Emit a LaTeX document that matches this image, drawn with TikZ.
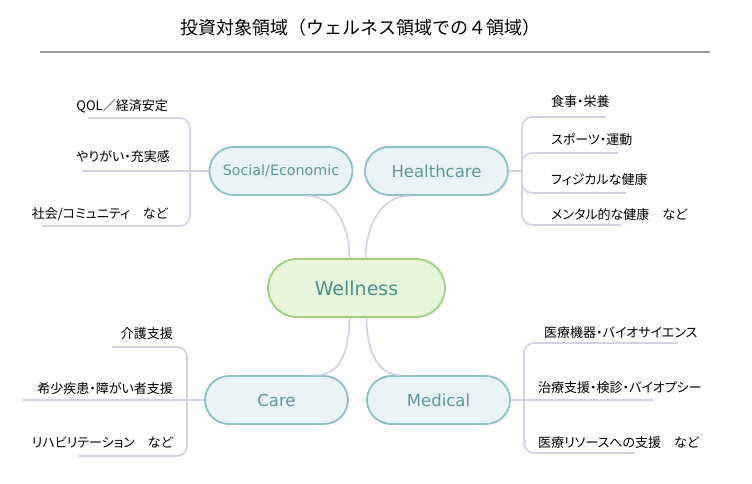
\documentclass[tikz,border=0pt]{standalone}
\usepackage{fontspec}
\newfontfamily\jpfont{Noto Sans CJK JP}
\newfontfamily\leaffont[RawFeature=+palt]{Noto Sans CJK JP}
\newfontfamily\latinfont{DejaVu Sans}
\usetikzlibrary{positioning}
\definecolor{topicfill}{HTML}{E8F4F6}
\definecolor{topicdraw}{HTML}{8DC0C4}
\definecolor{topictext}{HTML}{5E979D}
\definecolor{corefill}{HTML}{E5F6DA}
\definecolor{coredraw}{HTML}{A3D07D}
\definecolor{coretext}{HTML}{4F8F8F}
\definecolor{branchline}{HTML}{D3D2E2}
\definecolor{rulegray}{HTML}{9A9A9A}

\begin{document}
\begin{tikzpicture}[x=1pt, y=-1pt,
    topic/.style={draw=topicdraw, line width=1.8pt, fill=topicfill, rounded corners=24pt, minimum width=143pt, minimum height=48pt, text=topictext, font=\latinfont\fontsize{16.5}{18}\selectfont},
    core/.style={draw=coredraw, line width=1.8pt, fill=corefill, rounded corners=29pt, minimum width=177pt, minimum height=58pt, text=coretext, font=\latinfont\fontsize{19}{22}\selectfont},
    leaf/.style={inner sep=0pt, font=\leaffont\fontsize{13}{15}\selectfont},
    branch/.style={draw=branchline, line width=1.6pt, rounded corners=10pt}]
    \fill[white] (0,0) rectangle (752,484);

    \node[anchor=base west, inner sep=0pt, font=\jpfont\fontsize{18}{20}\selectfont] (title) at (180,35) {投資対象領域（ウェルネス領域での４領域）};
    \draw[rulegray, line width=1.2pt] (40,52) -- (710,52);

    \node[core] (wellness) at (356.5,288) {Wellness};
    \node[topic, font=\latinfont\fontsize{14.3}{16}\selectfont] (social) at (281,171) {Social/Economic};
    \node[topic] (health) at (436.5,171) {Healthcare};
    \node[topic] (care) at (276.5,400) {Care};
    \node[topic] (medical) at (438.5,400) {Medical};

    \draw[branch] ([xshift=-7pt]wellness.north) to[out=90, in=0] ([xshift=26pt]social.south);
    \draw[branch] ([xshift=9pt]wellness.north) to[out=90, in=180] ([xshift=-27pt]health.south);
    \draw[branch] ([xshift=-7pt]wellness.south) to[out=-90, in=0] ([xshift=41pt]care.north);
    \draw[branch] ([xshift=10pt]wellness.south) to[out=-90, in=180] ([xshift=-38pt]medical.north);

    % Social/Economic
    \coordinate (s_j) at (190,171);
    \coordinate (s_1) at (88,118);
    \coordinate (s_2) at (82,171);
    \coordinate (s_3) at (42,226);
    \node[leaf, anchor=base east] (s_1_label) at (168,111) {QOL／経済安定};
    \node[leaf, anchor=base east] (s_2_label) at (170,161) {やりがい・充実感};
    \node[leaf, anchor=base east] (s_3_label) at (168,218) {社会/コミュニティ　など};
    \draw[branch] (social.west) -- (s_2);
    \draw[branch] (s_j) -- (s_j |- s_1) -- (s_1);
    \draw[branch] (s_j) -- (s_j |- s_3) -- (s_3);

    % Healthcare
    \coordinate (h_j) at (522,171);
    \coordinate (h_1) at (606,117);
    \coordinate (h_2) at (618,153);
    \coordinate (h_3) at (626,193);
    \coordinate (h_4) at (621,225);
    \node[leaf, anchor=base west] (h_1_label) at (551,107) {食事・栄養};
    \node[leaf, anchor=base west] (h_2_label) at (551,144) {スポーツ・運動};
    \node[leaf, anchor=base west] (h_3_label) at (551,184) {フィジカルな健康};
    \node[leaf, anchor=base west] (h_4_label) at (551,219) {メンタル的な健康　など};
    \draw[branch] (health.east) -- (h_j);
    \draw[branch] (h_j) -- (h_j |- h_1) -- (h_1);
    \draw[branch] (h_j) -- (h_j |- h_2) -- (h_2);
    \draw[branch] (h_j) -- (h_j |- h_3) -- (h_3);
    \draw[branch] (h_j) -- (h_j |- h_4) -- (h_4);

    % Care
    \coordinate (c_j) at (187,400);
    \coordinate (c_1) at (112,347);
    \coordinate (c_2) at (23,400);
    \coordinate (c_3) at (79,456);
    \node[leaf, anchor=base east] (c_1_label) at (173,338) {介護支援};
    \node[leaf, anchor=base east] (c_2_label) at (173,393) {希少疾患・障がい者支援};
    \node[leaf, anchor=base east] (c_3_label) at (173,447) {リハビリテーション　など};
    \draw[branch] (care.west) -- (c_2);
    \draw[branch] (c_j) -- (c_j |- c_1) -- (c_1);
    \draw[branch] (c_j) -- (c_j |- c_3) -- (c_3);

    % Medical
    \coordinate (m_j) at (524,400);
    \coordinate (m_1) at (678,343);
    \coordinate (m_2) at (653,400);
    \coordinate (m_3) at (634,453);
    \node[leaf, anchor=base west] (m_1_label) at (544,337) {医療機器・バイオサイエンス};
    \node[leaf, anchor=base west] (m_2_label) at (538,392) {治療支援・検診・バイオプシー};
    \node[leaf, anchor=base west] (m_3_label) at (538,447) {医療リソースへの支援　など};
    \draw[branch] (medical.east) -- (m_2);
    \draw[branch] (m_j) -- (m_j |- m_1) -- (m_1);
    \draw[branch] (m_j) -- (m_j |- m_3) -- (m_3);
\end{tikzpicture}
\end{document}
